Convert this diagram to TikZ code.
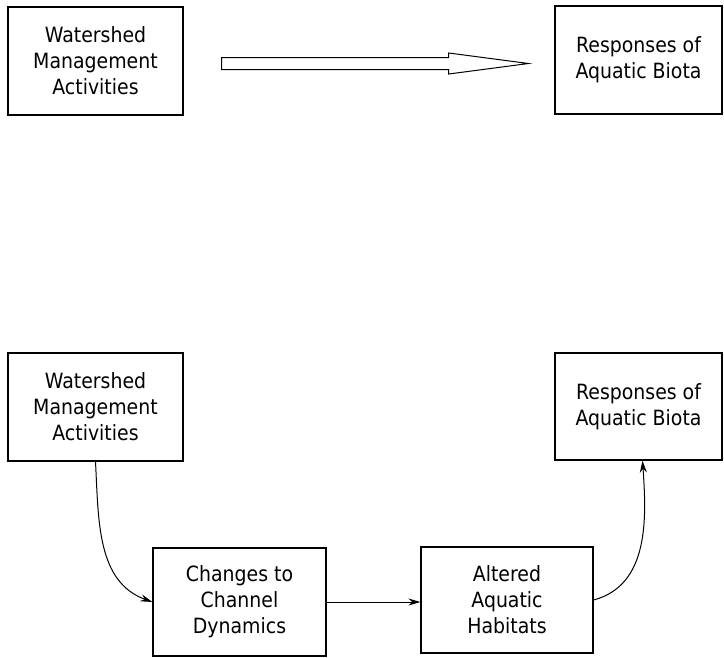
\documentclass[tikz,border=0pt]{standalone}
\usepackage{fontspec}
\setmainfont{DejaVu Sans}[FakeStretch=0.9]
\usetikzlibrary{shapes,arrows.meta}
\tikzset{
	block/.style  = {draw, line width=1.2pt, rectangle, align=center,
		inner sep=0pt, font=\fontsize{21}{26}\selectfont},
	flow/.style   = {line width=1pt, -{Stealth[length=12pt,width=7pt]}},
	bigarrow/.style = {draw, line width=1pt, single arrow, inner sep=0pt,
		minimum height=307pt, single arrow head extend=4.5pt,
		single arrow tip angle=15, text height=11pt, anchor=tail}
}

\begin{document}
\begin{tikzpicture}[x=1pt, y=-1pt]
	\useasboundingbox (0,0) rectangle (724,657);

	% without the link
	\draw
	node at (95.5,61) [block, minimum width=175pt, minimum height=108pt] (wma1)
		{Watershed\\Management\\Activities}
	node at (638.5,60) [block, minimum width=167pt, minimum height=108pt] (resp1)
		{Responses of\\Aquatic Biota}
	node at (221,63.5) [bigarrow] (link) {};

	% through the habitat
	\draw
	node at (95.5,407) [block, minimum width=175pt, minimum height=108pt] (wma2)
		{Watershed\\Management\\Activities}
	node at (239.5,602) [block, minimum width=173pt, minimum height=108pt] (chg)
		{Changes to\\Channel\\Dynamics}
	node at (507,600) [block, minimum width=172pt, minimum height=106pt] (alt)
		{Altered\\Aquatic\\Habitats}
	node at (638.5,406.5) [block, minimum width=167pt, minimum height=107pt] (resp2)
		{Responses of\\Aquatic Biota};

	\draw[flow] (wma2.south) to[out=-87, in=160] (chg.west);
	\draw[flow] (chg.east) -- (chg.east -| alt.west);
	\draw[flow] (alt.east) to[out=15, in=-86] ([xshift=4pt]resp2.south);

\end{tikzpicture}
\end{document}
